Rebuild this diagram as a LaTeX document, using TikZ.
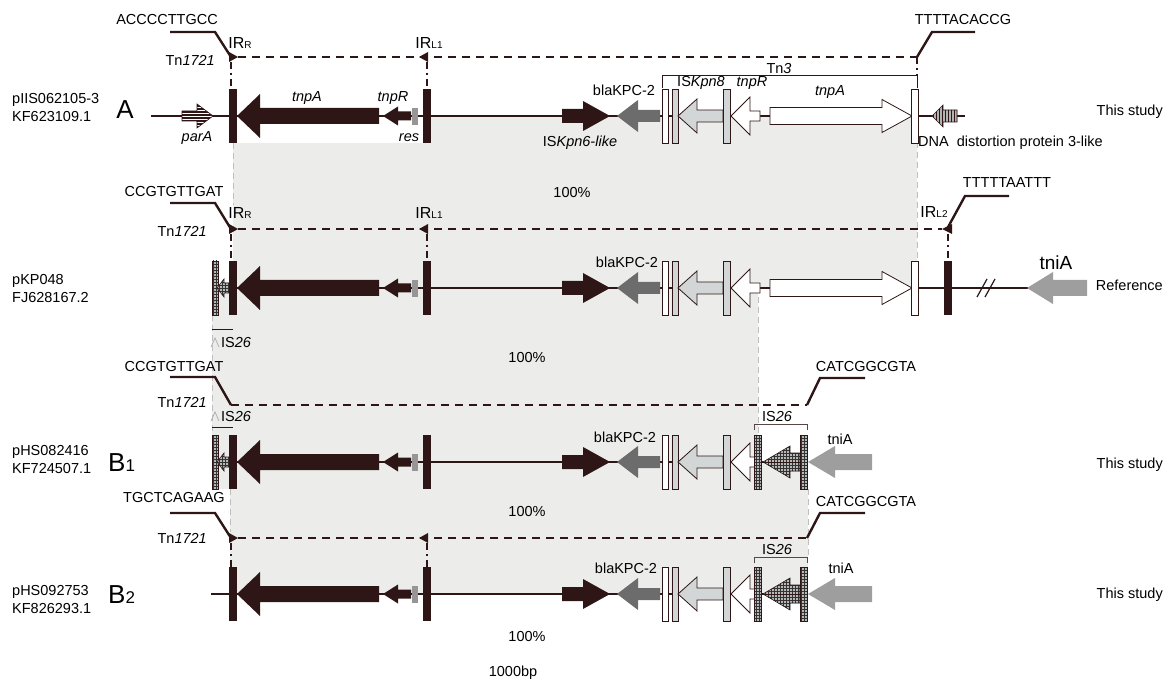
\documentclass[tikz,border=0pt]{standalone}
\usepackage{fontspec}
\setmainfont{Liberation Sans}
\usetikzlibrary{patterns}

\definecolor{tnbrown}{RGB}{46,22,22}
\definecolor{homgray}{RGB}{236,237,234}
\definecolor{kpcgray}{RGB}{108,108,108}
\definecolor{tnigray}{RGB}{158,158,158}
\definecolor{kpngray}{RGB}{210,214,214}
\definecolor{resgray}{RGB}{150,150,150}

% gene arrow: [style]{tail x}{tip x}{head base x}{y}{shaft half}{head half}
\newcommand{\gene}[7][]{%
  \draw[#1] (#2,{#5-#6}) -- (#4,{#5-#6}) -- (#4,{#5-#7}) -- (#3,#5)
    -- (#4,{#5+#7}) -- (#4,{#5+#6}) -- (#2,{#5+#6}) -- cycle;}
% upright bar of a row: [style]{left x}{right x}{y}
\newcommand{\genebar}[4][]{\draw[#1] (#2,{#4-27}) rectangle (#3,{#4+27});}
% IR label with a small index
\newcommand{\irlab}[1]{{\fontsize{16}{16}\selectfont IR}{\fontsize{10}{10}\selectfont #1}}

\begin{document}
\begin{tikzpicture}[x=1pt,y=-1pt,
  font=\fontsize{14.5}{18}\selectfont,
  every node/.style={inner sep=0pt},
  backbone/.style={draw=tnbrown,line width=1.1pt},
  irbar/.style={draw=none,fill=tnbrown},
  tnfill/.style={draw=none,fill=tnbrown},
  box/.style={draw=tnbrown,line width=0.8pt,fill=white},
  lbox/.style={draw=tnbrown,line width=0.8pt,fill=kpngray},
  kpc/.style={draw=none,fill=kpcgray},
  tni/.style={draw=none,fill=tnigray},
  is26/.style={draw=tnbrown,line width=0.6pt,preaction={fill=black!28},
               pattern=grid,pattern color=black!80},
  tnline/.style={draw=tnbrown,line width=2pt,dash pattern=on 8pt off 6pt},
  drop/.style={draw=tnbrown,line width=1.6pt,dash pattern=on 7pt off 4pt on 2pt off 4pt},
  homedge/.style={draw=black!25,line width=1pt,dash pattern=on 6pt off 4pt},
  leader/.style={draw=tnbrown,line width=2.4pt},
  irtri/.style={fill=tnbrown},
  gname/.style={font=\fontsize{14.5}{18}\selectfont\itshape},
  rowname/.style={anchor=west,align=left},
  big/.style={font=\fontsize{26}{26}\selectfont},
]
\useasboundingbox (0,0) rectangle (1166,684);

% ---- homology shading between the rows ----
\fill[homgray] (233,143) -- (431,143) -- (431,117) -- (917,117)
               -- (917,288) -- (233,288) -- cycle;
\fill[homgray] (212,288) rectangle (758,489);
\fill[homgray] (230,462) rectangle (808,594);
\draw[homedge] (233,143) -- (233,205);
\draw[homedge] (917,142) -- (917,262);
\draw[homedge] (212,315) -- (212,435);
\draw[homedge] (758,297) -- (758,442);
\draw[homedge] (230,489) -- (230,532);
\draw[homedge] (808,489) -- (808,557);

% ---- backbones ----
\draw[backbone] (151,116) -- (965,116);
\draw[backbone] (218,288) -- (1029,288);
\draw[backbone] (218,462) -- (808,462);
\draw[backbone] (211,594) -- (808,594);
\draw[tnbrown,line width=1.2pt] (977,297) -- (987,279);
\draw[tnbrown,line width=1.2pt] (985,297) -- (995,279);

% ---- Tn1721 extent, IR marks ----
\draw[tnline] (238,57) -- (917,57);
\draw[tnline] (238,229) -- (942,229);
\draw[tnline] (231,405) -- (807,405);
\draw[tnline,line width=2.8pt] (238,538) -- (807,538);
\foreach \y in {57,229,538}{
  \fill[irtri] (229,{\y-5}) -- (238,\y) -- (229,{\y+5}) -- cycle;
  \fill[irtri] (428,{\y-5}) -- (419,\y) -- (428,{\y+5}) -- cycle;
  \draw[drop] (231,{\y+5}) -- (231,{\y+31});
  \draw[drop] (427,{\y+5}) -- (427,{\y+31});
}
\fill[irtri] (952,224) -- (942,229) -- (952,234) -- cycle;
\draw[drop] (948,234) -- (948,262);
\draw[drop] (917,57) -- (917,76);

% ---- target sequences ----
\node (seqA)  at (167,20)  {ACCCCTTGCC};
\node (seqA2) at (963,20)  {TTTTACACCG};
\node (seqK)  at (174,192) {CCGTGTTGAT};
\node (seqK2) at (1007,183) {TTTTTAATTT};
\node (seqB)  at (174,367) {CCGTGTTGAT};
\node (seqB2) at (866,367) {CATCGGCGTA};
\node (seqC)  at (174,498) {TGCTCAGAAG};
\node (seqC2) at (866,502) {CATCGGCGTA};
\coordinate (irA) at (231,57);   \coordinate (irA2) at (917,57);
\coordinate (irK) at (231,229);  \coordinate (irK2) at (947,229);
\coordinate (irB) at (231,405);  \coordinate (irB2) at (807,405);
\coordinate (irC) at (231,538);  \coordinate (irC2) at (807,538);
\draw[leader] (170,32) -- (215,32) -- (irA);
\draw[leader] (irA2) -- (932,32) -- (975,32);
\draw[leader] (170,203) -- (215,203) -- (irK);
\draw[leader] (irK2) -- (965,196) -- (1009,196);
\draw[leader] (170,377) -- (215,377) -- (irB);
\draw[leader] (irB2) -- (820,378) -- (865,378);
\draw[leader] (170,513) -- (215,513) -- (irC);
\draw[leader] (irC2) -- (820,513) -- (865,513);

% ---- IS26 ends on the left ----
\foreach \y in {288,462}{
  \genebar[is26]{212}{218}{\y}
  \gene[is26]{230}{217}{224}{\y}{5}{9}
}

% ---- the part shared by all four plasmids ----
\foreach \y in {116,288,462,594}{
  \genebar[irbar]{229}{237}{\y}
  \gene[tnfill]{379}{237}{260}{\y}{8}{22}
  \gene[tnfill]{411}{383}{398}{\y}{4.5}{9.5}
  \fill[resgray] (412,{\y-8}) rectangle (418,{\y+9});
  \genebar[irbar]{423}{431}{\y}
  \gene[tnfill]{562}{610}{583}{\y}{7}{15}
  \gene[kpc]{660}{617}{638}{\y}{6}{16}
  \genebar[box]{662}{668}{\y}
  \genebar[lbox]{672}{678}{\y}
  \gene[lbox]{723}{678}{697}{\y}{6}{17}
  \genebar[lbox]{723}{730}{\y}
}

% ---- Tn3 remainder (A, reference) ----
\foreach \y in {116,288}{
  \gene[box]{760}{731}{750}{\y}{5}{19}
  \gene[box]{770}{912}{882}{\y}{8.5}{16.5}
  \genebar[box]{911}{918}{\y}
}
% ---- IS26 and tniA (B1, B2) ----
\foreach \y in {462,594}{
  \gene[box]{756}{731}{750}{\y}{5}{19}
  \genebar[is26]{754}{761}{\y}
  \gene[is26]{800}{763}{790}{\y}{9}{16}
  \genebar[is26]{800}{807}{\y}
  \draw[tnbrown,line width=0.8pt] (761,\y) -- (800,\y);
  \gene[tni]{872}{808}{835}{\y}{8}{16}
}

% ---- row A extras ----
\gene[draw=tnbrown,line width=0.6pt,preaction={fill=tnbrown},
      pattern=horizontal lines,pattern color=white]{182}{213}{197}{116}{5}{12}
\gene[draw=tnbrown,line width=0.6pt,preaction={fill=black!30},
      pattern=vertical lines,pattern color=tnbrown]{957}{932}{943}{116}{6}{11}
\draw[tnbrown,line width=1pt] (662,88) -- (662,76) -- (917,76) -- (917,88);

% ---- reference extras ----
\genebar[irbar]{944}{952}{288}
\gene[tni]{1087}{1027}{1053}{288}{8}{16}

% ---- IS26 brackets ----
\draw[tnbrown!80,line width=1pt] (754,430) -- (754,424) -- (807,424) -- (807,430);
\draw[tnbrown!80,line width=1pt] (754,563) -- (754,557) -- (807,557) -- (807,563);
\draw[tnbrown,line width=1pt] (212,329) -- (233,329);
\draw[tnbrown,line width=1pt] (212,427) -- (233,427);
\draw[black!30,line width=0.8pt] (211,347) -- (215,338) -- (219,347);
\draw[black!30,line width=0.8pt] (211,421) -- (215,412) -- (219,421);

% ---- labels ----
\node (irRA)  at (240,43)  {\irlab{R}};
\node (irL1A) at (429,43)  {\irlab{L1}};
\node (irRK)  at (240,213) {\irlab{R}};
\node (irL1K) at (429,213) {\irlab{L1}};
\node (irL2K) at (934,212) {\irlab{L2}};
\node[anchor=east] (tnA) at (215,60)  {Tn\textit{1721}};
\node[anchor=east] (tnK) at (207,231) {Tn\textit{1721}};
\node[anchor=east] (tnB) at (207,402) {Tn\textit{1721}};
\node[anchor=east] (tnC) at (207,538) {Tn\textit{1721}};
\node[anchor=south] (tn3) at (779,74) {Tn\textit{3}};

\node[gname] (parA)  at (197,138) {parA};
\node[gname] (tnpA1) at (307,98)  {tnpA};
\node[gname] (tnpR1) at (393,98)  {tnpR};
\node[gname] (res)   at (409,138) {res};
\node (kpn6)  at (580,143) {IS\textit{Kpn6-like}};
\node (kpn8)  at (701,83)  {IS\textit{Kpn8}};
\node[gname] (tnpR3) at (752,83)  {tnpR};
\node[gname] (tnpA3) at (830,92)  {tnpA};
\node[anchor=west] (ddp) at (918,143) {DNA\ \ distortion protein 3-like};
\node (kpcA) at (624,90)  {blaKPC-2};
\node (kpcK) at (627,262) {blaKPC-2};
\node (kpcB) at (625,437) {blaKPC-2};
\node (kpcC) at (626,568) {blaKPC-2};
\node[font=\fontsize{19}{19}\selectfont] (tniK) at (1056,263) {tniA};
\node (tniB) at (840,439) {tniA};
\node (tniC) at (841,568) {tniA};
\node (isB)  at (777,417) {IS\textit{26}};
\node (isC)  at (777,550) {IS\textit{26}};
\node[anchor=west] (isK)  at (221,343) {IS\textit{26}};
\node[anchor=west] (isB1) at (221,417) {IS\textit{26}};

\node (idA)  at (572,193) {100\%};
\node (idK)  at (527,358) {100\%};
\node (idB)  at (527,512) {100\%};
\node (idC)  at (527,637) {100\%};
\node (scale) at (513,673) {1000bp};

% ---- row names ----
\node[rowname] (nameA) at (12,108) {pIIS062105-3\\KF623109.1};
\node[rowname] (nameK) at (12,289) {pKP048\\FJ628167.2};
\node[rowname] (nameB) at (12,460) {pHS082416\\KF724507.1};
\node[rowname] (nameC) at (12,600) {pHS092753\\KF826293.1};
\node[big] (tagA) at (125,110) {A};
\node[big,anchor=west] (tagB) at (108,463) {B{\fontsize{17}{17}\selectfont 1}};
\node[big,anchor=west] (tagC) at (108,595) {B{\fontsize{17}{17}\selectfont 2}};
\node[anchor=east] (srcA) at (1163,112) {This study};
\node[anchor=east] (srcK) at (1163,285) {Reference};
\node[anchor=east] (srcB) at (1163,465) {This study};
\node[anchor=east] (srcC) at (1163,595) {This study};
\end{tikzpicture}
\end{document}
